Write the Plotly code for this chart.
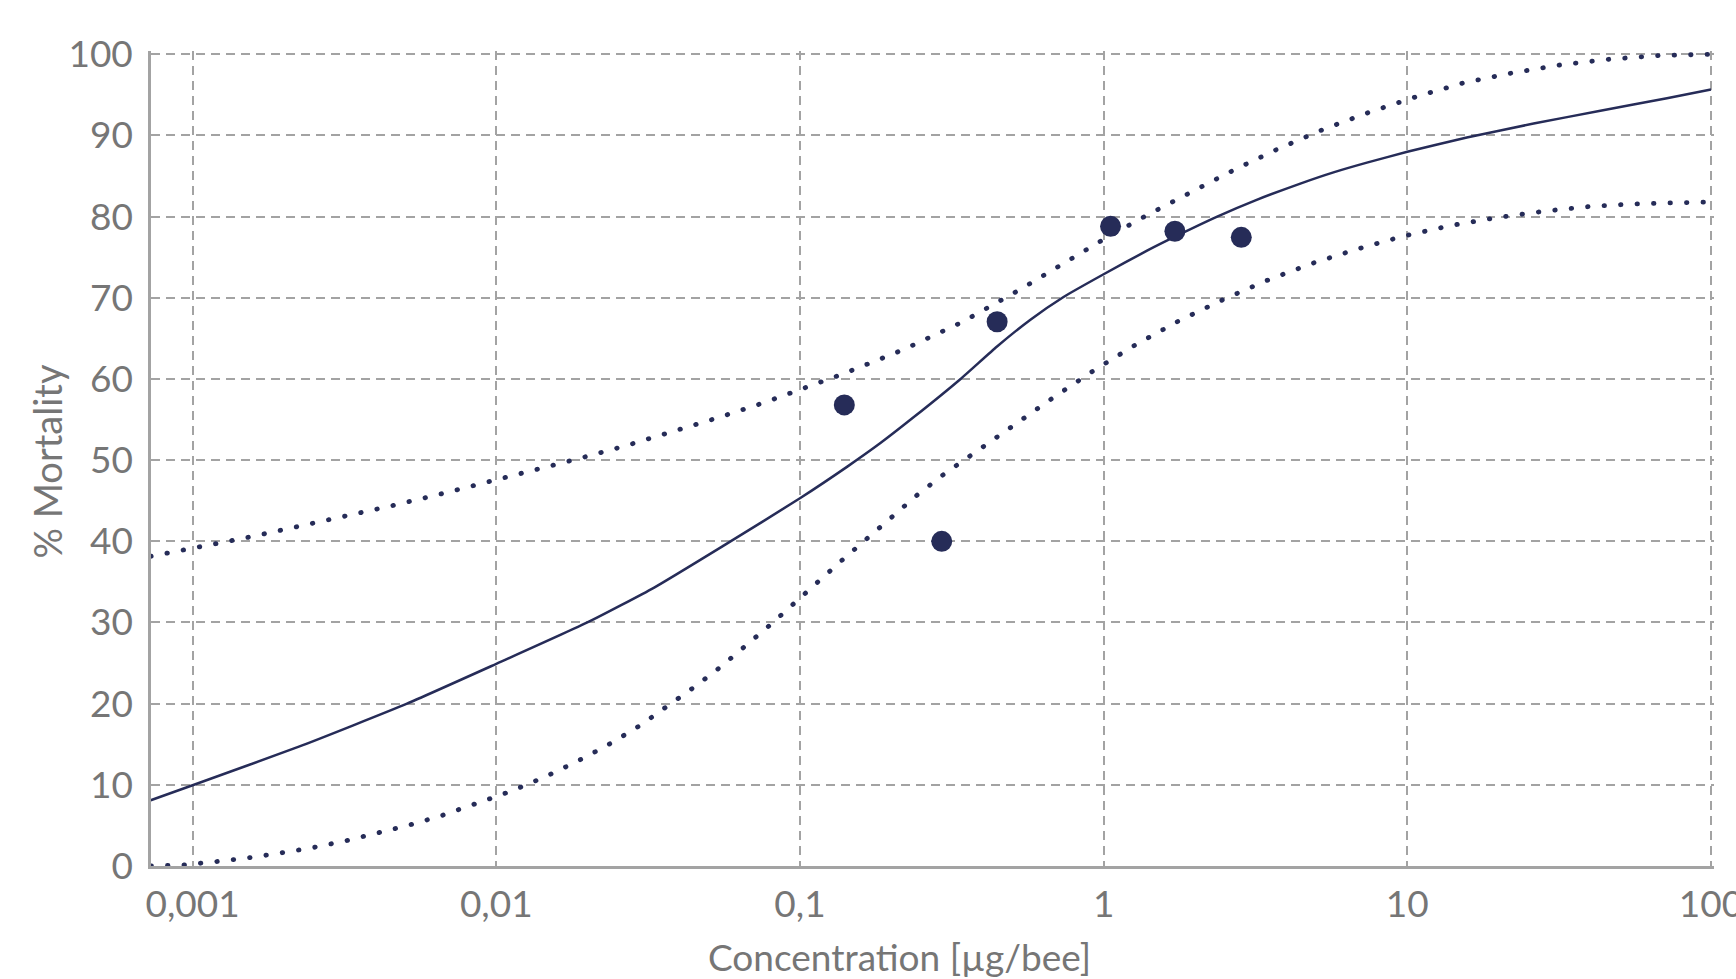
import plotly.graph_objects as go

# ---- data (curve x given as log10 of concentration in µg/bee) ----
obs_conc = [0.140, 0.293, 0.446, 1.054, 1.717, 2.84]
obs_mortality = [56.8, 40.0, 67.05, 78.8, 78.2, 77.45]

fit_log10_conc = [-3.138, -3.0, -2.65, -2.294, -2.0, -1.70, -1.48, -1.25, -1.0, -0.844,
                  -0.735, -0.625, -0.471, -0.351, -0.241, -0.132, 0.0, 0.143, 0.25, 0.374,
                  0.5, 0.65, 0.757, 0.867, 1.0, 1.196, 1.416, 1.636, 1.855, 2.0]
fit_mortality = [8.1, 9.95, 14.7, 20.0, 24.9, 30.0, 34.3, 39.5, 45.3, 49.2,
                 52.1, 55.3, 60.0, 64.0, 67.3, 70.1, 72.9, 75.8, 77.8, 80.0,
                 82.0, 84.1, 85.45, 86.65, 87.98, 89.74, 91.46, 93.04, 94.57, 95.66]

upper_log10_conc = [-3.138, -2.981, -2.822, -2.664, -2.508, -2.351, -2.194, -2.039, -1.883, -1.727,
                    -1.571, -1.417, -1.263, -1.109, -1.0, -0.86, -0.66, -0.466, -0.276, -0.09,
                    0.0, 0.144, 0.287, 0.432, 0.578, 0.727, 0.878, 1.032, 1.188, 1.346,
                    1.506, 1.668, 1.829, 2.0]
upper_mortality = [38.15, 39.26, 40.45, 41.73, 43.0, 44.32, 45.72, 47.16, 48.64, 50.2,
                   51.8, 53.5, 55.3, 57.2, 58.7, 60.6, 63.6, 67.0, 71.0, 75.15,
                   77.2, 80.2, 83.0, 85.8, 88.4, 90.8, 92.9, 94.8, 96.5, 97.7,
                   98.7, 99.4, 99.84, 100.0]

lower_log10_conc = [-3.137, -3.032, -2.925, -2.818, -2.711, -2.605, -2.498, -2.394, -2.29, -2.187,
                    -2.085, -1.982, -1.9, -1.804, -1.707, -1.614, -1.523, -1.434, -1.346, -1.262,
                    -1.179, -1.098, -1.018, -0.937, -0.859, -0.777, -0.696, -0.614, -0.53, -0.422,
                    -0.293, -0.162, -0.03, 0.105, 0.245, 0.389, 0.535, 0.684, 0.835, 0.988,
                    1.143, 1.3, 1.458, 1.616, 1.775, 1.934, 2.0]
lower_mortality = [0.0, 0.12, 0.53, 0.99, 1.6, 2.26, 3.08, 3.99, 5.01, 6.12,
                   7.4, 8.8, 10.0, 11.6, 13.4, 15.3, 17.4, 19.7, 22.1, 24.5,
                   27.1, 29.7, 32.4, 35.2, 37.75, 40.4, 43.1, 45.7, 48.15, 51.0,
                   54.4, 57.8, 61.1, 64.2, 67.1, 69.7, 72.1, 74.2, 76.0, 77.6,
                   78.9, 79.9, 80.7, 81.3, 81.6, 81.8, 81.8]

x_tick_vals = [0.001, 0.01, 0.1, 1, 10, 100]
x_tick_text = ["0,001", "0,01", "0,1", "1", "10", "100"]
y_tick_vals = [0, 10, 20, 30, 40, 50, 60, 70, 80, 90, 100]

x_title = "Concentration [µg/bee]"
y_title = "% Mortality"

# ---- styling ----
NAVY = "#262c58"
GRID = "#a3a3a3"
TEXT = "#767676"
FONT = "Lato"


def conc(logs):
    return [10 ** v for v in logs]


fig = go.Figure()
fig.add_trace(go.Scatter(x=conc(upper_log10_conc), y=upper_mortality, mode="lines",
                         line=dict(color=NAVY, width=4.8, dash="0.5px,16px"),
                         hoverinfo="skip", showlegend=False))
fig.add_trace(go.Scatter(x=conc(lower_log10_conc), y=lower_mortality, mode="lines",
                         line=dict(color=NAVY, width=4.8, dash="0.5px,16px"),
                         hoverinfo="skip", showlegend=False))
fig.add_trace(go.Scatter(x=conc(fit_log10_conc), y=fit_mortality, mode="lines",
                         line=dict(color=NAVY, width=2.5, shape="spline", smoothing=0.5),
                         showlegend=False))
fig.add_trace(go.Scatter(x=obs_conc, y=obs_mortality, mode="markers",
                         marker=dict(color=NAVY, size=21, line=dict(width=0)),
                         showlegend=False))

fig.update_layout(
    width=1736, height=979,
    margin=dict(l=151, r=22, t=51, b=113, autoexpand=False),
    paper_bgcolor="white", plot_bgcolor="white",
    font=dict(family=FONT, size=37, color=TEXT),
    xaxis=dict(type="log", range=[-3.137, 2.01], automargin=False,
               tickvals=x_tick_vals, ticktext=x_tick_text,
               showgrid=True, gridcolor=GRID, gridwidth=2, griddash="9px,6px",
               showline=True, linecolor=GRID, linewidth=2.5,
               zeroline=False, ticks="", ticklabelstandoff=4,
               ticklabeloverflow="allow",
               tickfont=dict(family=FONT, size=37, color=TEXT)),
    yaxis=dict(range=[0, 100.4], tickvals=y_tick_vals, automargin=False,
               showgrid=True, gridcolor=GRID, gridwidth=2, griddash="9px,6px",
               showline=True, linecolor=GRID, linewidth=2.5,
               zeroline=False, ticks="", ticklabelstandoff=8,
               ticklabeloverflow="allow",
               tickfont=dict(family=FONT, size=37, color=TEXT)),
    annotations=[
        dict(text=x_title, xref="paper", yref="paper", x=0.479, y=-0.111,
             xanchor="center", yanchor="middle", showarrow=False,
             font=dict(family=FONT, size=37, color=TEXT)),
        dict(text=y_title, xref="paper", yref="paper", x=-0.0667, y=0.496,
             xanchor="center", yanchor="middle", textangle=-90, showarrow=False,
             font=dict(family=FONT, size=38, color=TEXT)),
    ],
)

post = """
document.body.style.margin = '0';
document.body.style.overflow = 'hidden';
document.querySelectorAll('.scatterlayer .js-line').forEach(function(p){
  var d = p.style.strokeDasharray;
  if (d && d !== 'none' && d !== '') { p.style.strokeLinecap = 'round'; }
});
"""
fig.write_html("out.html", post_script=post, config={"displayModeBar": False})
